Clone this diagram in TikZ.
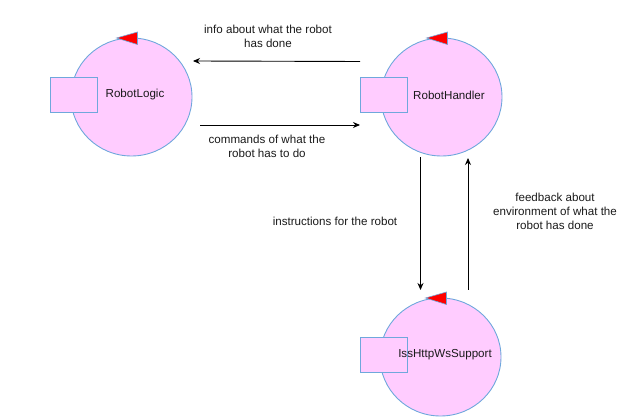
\documentclass[tikz,border=0pt]{standalone}
\usepackage{fontspec}
\setmainfont{Liberation Sans}
\usetikzlibrary{arrows.meta,shapes.geometric}
\definecolor{pinkfill}{HTML}{FFCCFF}
\definecolor{bluestroke}{HTML}{6FA8DC}
\definecolor{txt}{HTML}{1A1A1A}
\tikzset{
  actor/.style={ellipse,draw=bluestroke,fill=pinkfill,line width=0.9pt,minimum width=121pt,minimum height=118pt,inner sep=0pt},
  port/.style={draw=bluestroke,fill=pinkfill,line width=0.9pt,minimum width=47pt,minimum height=35pt,inner sep=0pt},
  lbl/.style={font=\fontsize{11.6pt}{14pt}\selectfont,text=txt,align=center,inner sep=0pt},
  flow/.style={draw=black,line width=0.9pt,-{Stealth[length=7pt,width=6pt]}},
  tri/.style={draw=bluestroke,fill=red,line width=0.6pt}
}
\begin{document}
\begin{tikzpicture}[x=1pt,y=-1pt]
\useasboundingbox (0,0) rectangle (632,419);
% actors
\node[actor] (logic) at (131.5,97) {};
\node[actor] (handler) at (441.5,97) {};
\node[actor] (support) at (440.5,357) {};
% ports
\node[port] (logicport) at (73.5,94.5) {};
\node[port] (handlerport) at (383.5,94.5) {};
\node[port] (supportport) at (383.5,354.5) {};
% triangles
\draw[tri] (116.5,38) -- (137.5,32) -- (137.5,44.5) -- cycle;
\draw[tri] (426.5,38) -- (447.5,32) -- (447.5,44.5) -- cycle;
\draw[tri] (425.5,298) -- (446.5,292) -- (446.5,304.5) -- cycle;
% labels
\node[lbl] (logiclbl) at (135,95) {RobotLogic};
\node[lbl] (handlerlbl) at (449,95) {RobotHandler};
\node[lbl] (supportlbl) at (445,355) {IssHttpWsSupport};
% connector endpoints
\coordinate (infoS) at (360,61.5);
\coordinate (infoE) at (193,61);
\coordinate (cmdS) at (200,125);
\coordinate (cmdE) at (360,125);
\coordinate (insS) at (420.5,157);
\coordinate (insE) at (420.5,290);
\coordinate (fbS) at (468,290);
\coordinate (fbE) at (468,158);
\draw[flow] (infoS) -- (infoE);
\draw[flow] (cmdS) -- (cmdE);
\draw[flow] (insS) -- (insE);
\draw[flow] (fbS) -- (fbE);
% connector labels
\node[lbl] (infolbl) at (268,36) {info about what the robot\\has done};
\node[lbl] (cmdlbl) at (267,146.5) {commands of what the\\robot has to do};
\node[lbl] (inslbl) at (335,221) {instructions for the robot};
\node[lbl] (fblbl) at (555,211) {feedback about\\environment of what the\\robot has done};
\end{tikzpicture}
\end{document}
